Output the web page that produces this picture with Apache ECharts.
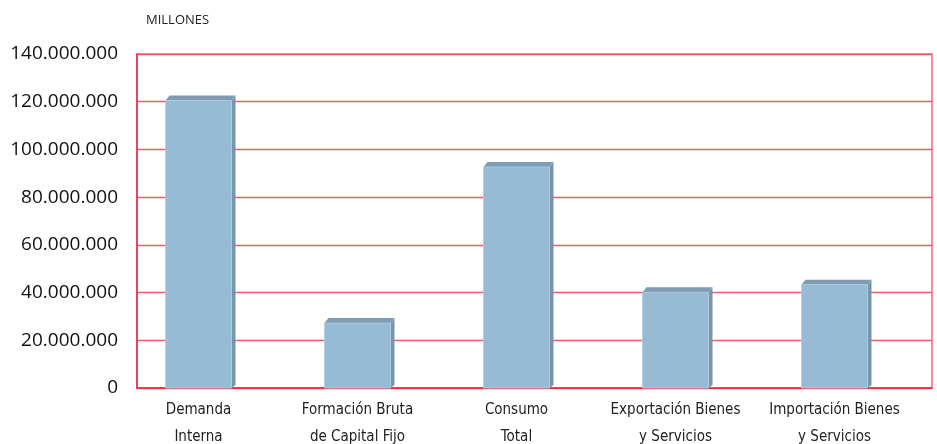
<!DOCTYPE html>
<html>
<head>
<meta charset="utf-8">
<script src="https://cdn.jsdelivr.net/npm/echarts@6/dist/echarts.min.js"></script>
<style>
  html, body { margin: 0; padding: 0; background: #fff; }
  #chart { width: 937px; height: 444px; }
</style>
</head>
<body>
<div id="chart"></div>
<script>
const categories = [
  'Demanda\nInterna',
  'Formación Bruta\nde Capital Fijo',
  'Consumo\nTotal',
  'Exportación Bienes\ny Servicios',
  'Importación Bienes\ny Servicios'
]
const values = [120500000, 27200000, 92600000, 40100000, 43300000]
const yMin = 0
const yMax = 140000000
const yStep = 20000000

const formatMiles = (v) => String(v).replace(/\B(?=(\d{3})+(?!\d))/g, '.')

const chart = echarts.init(document.getElementById('chart'))

// barra con efecto 3D: frente, lado derecho y tapa
const renderBar = (params, api) => {
  const base = api.coord([api.value(0), 0])
  const top = api.coord([api.value(0), api.value(1)])
  const bw = 66
  const dx = 4
  const dy = 5
  const x0 = base[0] - bw / 2
  const x1 = x0 + bw
  return {
    type: 'group',
    children: [
      {
        type: 'polygon',
        shape: { points: [[x1, top[1]], [x1 + dx, top[1] - dy], [x1 + dx, base[1] - 3], [x1, base[1]]] },
        style: { fill: '#7896ab' }
      },
      {
        type: 'polygon',
        shape: { points: [[x0, top[1]], [x0 + dx, top[1] - dy], [x1 + dx, top[1] - dy], [x1, top[1]]] },
        style: { fill: '#7e9cb4' }
      },
      {
        type: 'rect',
        shape: { x: x0, y: top[1], width: bw, height: base[1] - top[1] },
        style: { fill: '#98bbd5', stroke: '#b4cee0', lineWidth: 0.8 }
      }
    ]
  }
}

const option = {
  animation: false,
  title: {
    text: 'MILLONES',
    left: 146,
    top: 14,
    padding: 0,
    textStyle: { fontFamily: 'Open Sans', fontSize: 13, fontWeight: 'normal', color: '#222' }
  },
  grid: [
    { left: 137, right: 5, top: 54, bottom: 56, outerBoundsMode: 'none', show: true, borderColor: '#ef6d76', borderWidth: 1.5 },
    { left: 119, right: 23, top: 54, bottom: 56, outerBoundsMode: 'none' }
  ],
  xAxis: [
    {
      gridIndex: 0,
      type: 'category',
      data: [''],
      axisLine: { lineStyle: { color: '#e0303e', width: 1.5 } },
      axisTick: { show: false },
      axisLabel: { show: false },
      splitLine: { show: false }
    },
    {
      gridIndex: 1,
      type: 'category',
      data: categories,
      axisLine: { show: false },
      axisTick: { show: false },
      splitLine: { show: false },
      splitArea: { show: false },
      axisLabel: {
        margin: 9,
        fontFamily: 'Liberation Sans Narrow, DejaVu Sans Condensed, sans-serif',
        fontSize: 15,
        lineHeight: 27,
        color: '#222',
        interval: 0
      }
    }
  ],
  yAxis: [
    {
      gridIndex: 0,
      type: 'value',
      min: yMin,
      max: yMax,
      interval: yStep,
      axisLine: { show: true, lineStyle: { color: '#e0303e', width: 1.5 } },
      axisTick: { show: false },
      splitLine: { lineStyle: { color: '#f05a68', width: 1.3 } },
      axisLabel: {
        margin: 19,
        fontFamily: 'Open Sans',
        fontSize: 19,
        color: '#111',
        formatter: formatMiles
      }
    },
    {
      gridIndex: 1,
      type: 'value',
      min: yMin,
      max: yMax,
      interval: yStep,
      axisLine: { show: false },
      axisTick: { show: false },
      axisLabel: { show: false },
      splitLine: { show: false },
      splitArea: { show: false }
    }
  ],
  series: [
    {
      type: 'custom',
      xAxisIndex: 1,
      yAxisIndex: 1,
      renderItem: renderBar,
      data: values.map((v, i) => [i, v])
    }
  ]
}

chart.setOption(option)
</script>
</body>
</html>
